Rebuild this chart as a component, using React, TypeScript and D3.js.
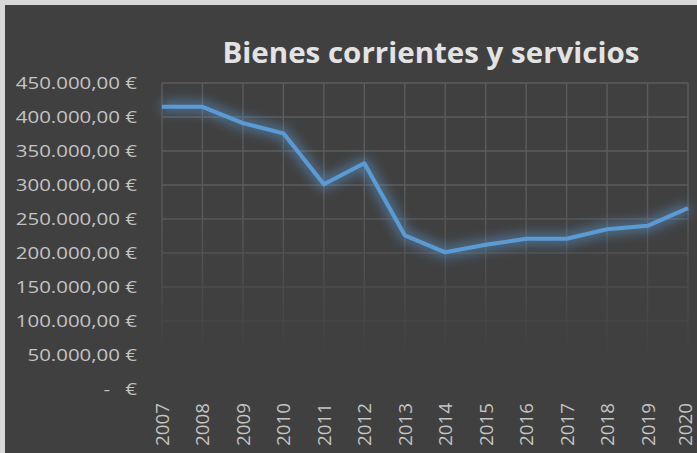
import React from "react";
import * as d3 from "d3";

const years = ["2007","2008","2009","2010","2011","2012","2013","2014","2015","2016","2017","2018","2019","2020"];
const values = [415000, 415000, 391000, 376000, 301000, 332000, 226000, 201000, 212000, 221000, 221000, 235000, 240000, 266000];
const yTicks = [0, 50000, 100000, 150000, 200000, 250000, 300000, 350000, 400000, 450000];
const title = "Bienes corrientes y servicios";

const W = 697, H = 453;
const left = 162, right = 688, top = 83, bottom = 389;

function fmt(v: number) {
  if (v === 0) return null;
  const s = d3.format(",.2f")(v).replace(/,/g, "#").replace(/\./g, ",").replace(/#/g, ".");
  return s + " €";
}

export default function App() {
  const x = d3.scalePoint<string>().domain(years).range([left, right]);
  const y = d3.scaleLinear().domain([0, 450000]).range([bottom, top]);
  const line = d3.line<number>().x((_, i) => x(years[i])!).y(d => y(d));
  const path = line(values)!;
  const font = "'Open Sans', 'Noto Sans', sans-serif";
  const lab = { fontSize: 15.5, fill: "#c4c4c4" };
  return (
    <svg width={W} height={H} style={{ position: "absolute", left: 0, top: 0 }} fontFamily={font}>
      <defs>
        <linearGradient id="fade" x1="0" y1={top} x2="0" y2={360} gradientUnits="userSpaceOnUse">
          <stop offset="0" stopColor="#fff" stopOpacity={1} />
          <stop offset="0.4" stopColor="#fff" stopOpacity={1} />
          <stop offset="1" stopColor="#fff" stopOpacity={0} />
        </linearGradient>
        <mask id="gridMask" maskUnits="userSpaceOnUse" x={0} y={0} width={W} height={H}>
          <rect x={0} y={0} width={W} height={H} fill="url(#fade)" />
        </mask>
        <filter id="glow" x="-10%" y="-30%" width="120%" height="160%">
          <feGaussianBlur stdDeviation="6" />
        </filter>
      </defs>
      <rect x={0} y={0} width={W} height={H} fill="#d9d9d9" />
      <rect x={5} y={5} width={W - 5} height={H - 5} fill="#404040" />
      <g mask="url(#gridMask)" stroke="#5c5c5c" strokeWidth={1.4}>
        {yTicks.map(t => (
          <line key={"h" + t} x1={left} x2={right} y1={y(t)} y2={y(t)} />
        ))}
        {years.map(yr => (
          <line key={"v" + yr} x1={x(yr)} x2={x(yr)} y1={top} y2={bottom} />
        ))}
      </g>
      <text x={431} y={63} textAnchor="middle" fontSize={28} fontWeight="bold" fill="#e3e3e3"
        textLength={417} lengthAdjust="spacingAndGlyphs">{title}</text>
      {yTicks.map(t => {
        const l = fmt(t);
        return l ? (
          <text key={"yl" + t} transform={`translate(137,${y(t)}) scale(1.32,1)`} dy="0.36em" textAnchor="end" {...lab}>{l}</text>
        ) : (
          <g key={"yl0"}>
            <text transform={`translate(110,${y(t)}) scale(1.32,1)`} dy="0.36em" textAnchor="end" {...lab}>-</text>
            <text transform={`translate(137,${y(t)}) scale(1.32,1)`} dy="0.36em" textAnchor="end" {...lab}>€</text>
          </g>
        );
      })}
      {years.map(yr => (
        <text key={"xl" + yr} transform={`translate(${Math.min(x(yr)! + 7, 692)},${446}) rotate(-90)`} fontSize={18} fill="#c4c4c4"
          textLength={43} lengthAdjust="spacingAndGlyphs">{yr}</text>
      ))}
      <path d={path} fill="none" stroke="#5b9bd5" strokeWidth={10} strokeOpacity={0.6} filter="url(#glow)" strokeLinejoin="round" />
      <path d={path} fill="none" stroke="#5b9bd5" strokeWidth={4} strokeLinejoin="round" />
    </svg>
  );
}
